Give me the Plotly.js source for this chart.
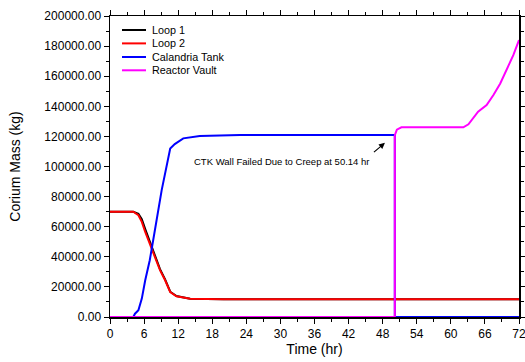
<!DOCTYPE html>
<html>
<head>
<meta charset="utf-8">
<script src="https://cdn.plot.ly/plotly-3.0.1.min.js"></script>
<style>html,body{margin:0;padding:0;background:#fff;}#chart{width:525px;height:362px;}</style>
</head>
<body>
<div id="chart"></div>
<script>
// Time (hr) and corium mass (kg)
const loop1Time = [0, 4.1, 5.0, 5.6, 6.2, 7.0, 7.9, 8.8, 9.7, 10.6, 11.7, 14.1, 20, 30, 40, 50, 60, 72];
const loop1Mass = [70000, 70000, 68500, 65000, 58500, 50500, 42000, 31800, 25000, 16800, 13900, 12200, 11800, 11800, 11800, 11800, 11800, 11800];

const loop2Time = [0, 4.1, 5.0, 5.6, 6.2, 7.0, 7.9, 8.8, 9.7, 10.6, 11.7, 14.1, 20, 30, 40, 50, 60, 72];
const loop2Mass = [70000, 70000, 67600, 63200, 56500, 48800, 41000, 31100, 24400, 16600, 13800, 12200, 11800, 11800, 11800, 11800, 11800, 11800];

const ctkTime = [0, 4.1, 4.4, 5.0, 5.6, 6.2, 7.0, 7.6, 8.2, 9.1, 10.0, 10.6, 11.4, 12.9, 15.8, 22.9, 30, 50.14, 50.14, 60, 72];
const ctkMass = [0, 0, 2200, 4500, 12200, 24400, 37700, 52000, 64300, 84300, 102000, 112000, 114900, 118700, 120200, 120900, 120900, 120900, 0, 0, 0];

const vaultTime = [0, 50.14, 50.14, 50.5, 51.3, 55, 62.2, 63.1, 64.0, 64.8, 66.3, 67.5, 68.7, 69.8, 71.0, 72];
const vaultMass = [0, 0, 120800, 124500, 126000, 126000, 126000, 128000, 132600, 136400, 140800, 147500, 155200, 164100, 174000, 184000];

const seriesNames = ['Loop 1', 'Loop 2', 'Calandria Tank', 'Reactor Vault'];
const seriesColors = ['#000000', '#ff0000', '#0000ff', '#ff00ff'];
const xTickVals = [0, 6, 12, 18, 24, 30, 36, 42, 48, 54, 60, 66, 72];
const yTickVals = [0, 20000, 40000, 60000, 80000, 100000, 120000, 140000, 160000, 180000, 200000];

const xs = [loop1Time, loop2Time, ctkTime, vaultTime];
const ys = [loop1Mass, loop2Mass, ctkMass, vaultMass];
const traces = xs.map((x, i) => ({
  x: x, y: ys[i], type: 'scatter', mode: 'lines', name: seriesNames[i],
  line: {color: seriesColors[i], width: 2}
}));

const font = 'Liberation Sans, Arial, sans-serif';

// compact legend (paper coordinates)
const legendRowsY = [0.9535, 0.909, 0.8638, 0.8196];
const legendShapes = seriesNames.map((n, i) => ({
  type: 'line', xref: 'paper', yref: 'paper', x0: 0.0293, x1: 0.088,
  y0: legendRowsY[i], y1: legendRowsY[i], line: {color: seriesColors[i], width: 2}
}));
const legendTexts = seriesNames.map((n, i) => ({
  xref: 'paper', yref: 'paper', x: 0.0978, y: legendRowsY[i], xanchor: 'left', yanchor: 'middle',
  text: n, showarrow: false, font: {size: 10.8, family: font, color: '#000'}
}));

const layout = {
  width: 525, height: 362,
  margin: {l: 110, r: 6, t: 16, b: 45},
  paper_bgcolor: '#fff', plot_bgcolor: '#fff',
  font: {family: font, color: '#000', size: 12},
  showlegend: false,
  xaxis: {
    range: [0, 72], tickvals: xTickVals, ticktext: xTickVals.map(String),
    ticks: 'outside', ticklen: 5, tickwidth: 1, tickcolor: '#000',
    minor: {dtick: 3, tick0: 0, ticks: 'outside', ticklen: 3, tickcolor: '#000', showgrid: false},
    showline: true, linecolor: '#000', linewidth: 1.5, mirror: 'ticks',
    showgrid: false, zeroline: false, ticklabeloverflow: 'allow',
    tickfont: {size: 12, family: font},
    title: {text: 'Time (hr)', font: {size: 14, family: font}, standoff: 0}
  },
  yaxis: {
    range: [0, 200000], tickvals: yTickVals, tickformat: '.2f',
    ticks: 'outside', ticklen: 5, tickwidth: 1, tickcolor: '#000',
    minor: {dtick: 10000, tick0: 0, ticks: 'outside', ticklen: 3, tickcolor: '#000', showgrid: false},
    showline: true, linecolor: '#000', linewidth: 1.5, mirror: 'ticks',
    showgrid: false, zeroline: false, ticklabeloverflow: 'allow',
    tickfont: {size: 12, family: font},
    title: {text: 'Corium Mass (kg)', font: {size: 14, family: font}, standoff: 20}
  },
  shapes: legendShapes,
  annotations: [
    {x: 48.4, y: 115700, ax: 46.2, ay: 108700, axref: 'x', ayref: 'y',
     xref: 'x', yref: 'y', showarrow: true, arrowhead: 2, arrowsize: 1, arrowwidth: 1.2,
     arrowcolor: '#000', text: ''},
    {x: 30.2, y: 103500, xref: 'x', yref: 'y', showarrow: false,
     text: 'CTK Wall Failed Due to Creep at 50.14 hr', font: {size: 9.5, family: font, color: '#000'}}
  ].concat(legendTexts)
};

Plotly.newPlot('chart', traces, layout, {displayModeBar: false, staticPlot: true});
</script>
</body>
</html>
